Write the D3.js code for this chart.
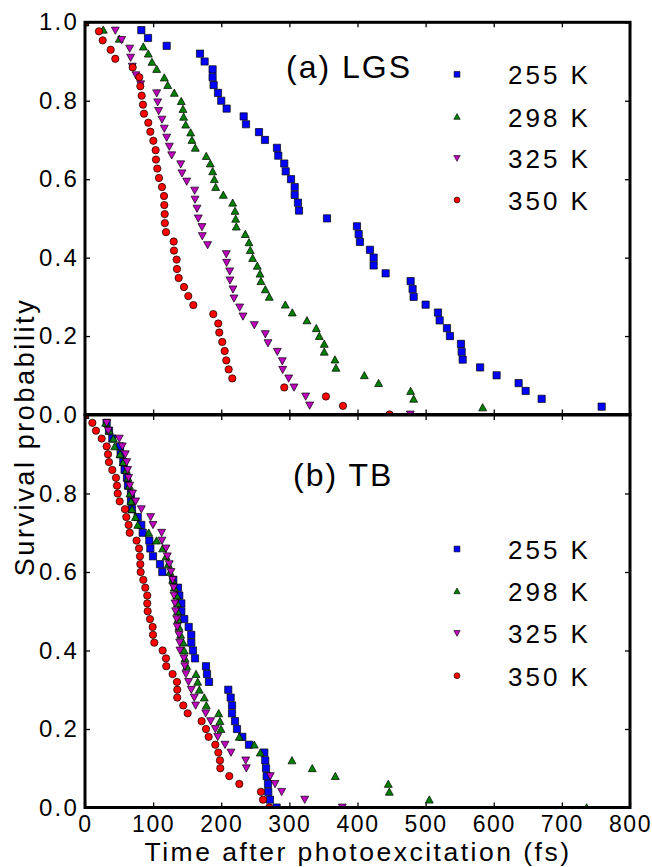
<!DOCTYPE html>
<html>
<head>
<meta charset="utf-8">
<script src="https://cdn.jsdelivr.net/npm/d3@7/dist/d3.min.js"></script>
<style>
  html, body { margin: 0; padding: 0; background: #fff; }
  svg { display: block; }
  text { font-family: "Liberation Sans", Arial, Helvetica, sans-serif; fill: #000; }
</style>
</head>
<body>
<svg id="chart" width="652" height="867"></svg>
<script>
// ---------------- DATA ----------------
const xTicks = [0, 100, 200, 300, 400, 500, 600, 700, 800];
const yTicksA = [0, 0.2, 0.4, 0.6, 0.8, 1.0];
const yTicksB = [0, 0.2, 0.4, 0.6, 0.8];
const seriesNames = ["255 K", "298 K", "325 K", "350 K"];

// (a) LGS
const lgs255T = [0, 82.7, 92.5, 119.9, 168.8, 175.6, 187.3, 187.3, 188.8, 195.2, 200, 207.9, 232.9, 236.3, 255.4, 264.2, 281.8, 283.7, 292.5, 294.6, 302.4, 307.8, 307.8, 312.6, 314.1, 355.2, 399.2, 401.7, 403.6, 418.3, 423.7, 423.7, 441.3, 478, 480.9, 482.4, 500, 518.1, 520.6, 531.3, 535.7, 551.9, 552.9, 554.4, 580, 604.2, 636.5, 646.8, 670.3, 758.4];
const lgs255P = [1.0, 0.98, 0.96, 0.94, 0.92, 0.90, 0.88, 0.86, 0.84, 0.82, 0.80, 0.78, 0.76, 0.74, 0.72, 0.70, 0.68, 0.66, 0.64, 0.62, 0.60, 0.58, 0.56, 0.54, 0.52, 0.50, 0.48, 0.46, 0.44, 0.42, 0.40, 0.38, 0.36, 0.34, 0.32, 0.30, 0.28, 0.26, 0.24, 0.22, 0.20, 0.18, 0.16, 0.14, 0.12, 0.10, 0.08, 0.06, 0.04, 0.02];

const lgs298T = [0, 26.9, 50.3, 85.6, 92.9, 98.3, 105.2, 116.4, 121.4, 131.1, 141.3, 143.8, 144.8, 147.8, 155.1, 157, 161.9, 178, 183.9, 187.4, 189.8, 191.8, 203, 216.8, 220.2, 221.2, 222.1, 235.3, 240.7, 242.6, 246.1, 252.9, 256.9, 258.3, 264.7, 270.5, 294, 304.3, 325.8, 339.5, 343.9, 351.2, 351.2, 366.9, 368.4, 410, 431, 478, 482.4, 583.7];
const lgs298P = [1.0, 0.981, 0.958, 0.938, 0.920, 0.899, 0.881, 0.859, 0.840, 0.820, 0.799, 0.779, 0.759, 0.739, 0.719, 0.700, 0.680, 0.659, 0.640, 0.620, 0.600, 0.580, 0.560, 0.540, 0.519, 0.499, 0.479, 0.460, 0.439, 0.419, 0.399, 0.379, 0.359, 0.340, 0.319, 0.300, 0.280, 0.260, 0.240, 0.220, 0.200, 0.180, 0.160, 0.140, 0.119, 0.100, 0.080, 0.060, 0.040, 0.018];

const lgs325T = [0, 44.5, 53.8, 65.6, 67, 69.4, 74.8, 81.7, 105.2, 106.7, 108.1, 113, 116.4, 119.9, 123.8, 127.3, 140.5, 142.4, 149.3, 161, 161.5, 164.4, 166.3, 171.7, 172.2, 180, 207.4, 207.9, 212.4, 212.8, 217.2, 218.7, 227, 231.9, 248.5, 264.7, 268.6, 282.3, 289.6, 290.2, 299, 306.8, 323.9, 329.8, 477.5];
const lgs325P = [1.0, 0.979, 0.955, 0.933, 0.910, 0.887, 0.865, 0.842, 0.819, 0.796, 0.774, 0.752, 0.729, 0.706, 0.683, 0.661, 0.638, 0.615, 0.594, 0.571, 0.548, 0.525, 0.500, 0.478, 0.455, 0.432, 0.409, 0.387, 0.365, 0.342, 0.319, 0.296, 0.273, 0.250, 0.228, 0.205, 0.182, 0.160, 0.136, 0.114, 0.092, 0.069, 0.046, 0.023, 0.0];

const lgs350T = [0, 20.5, 26, 37.7, 44.5, 70, 79.7, 81.2, 83.2, 85.1, 86.6, 92.9, 95.9, 100.3, 103.7, 104.2, 106.1, 108.6, 113, 116, 116.4, 117, 117.2, 118.9, 130.2, 130.6, 134.5, 135, 137.5, 145.3, 151.6, 159, 188.3, 195.6, 197.1, 201.5, 205, 207.4, 210.9, 216.2, 292.5, 353.7, 378.7, 447];
const lgs350P = [1.0, 0.977, 0.954, 0.930, 0.907, 0.885, 0.860, 0.837, 0.813, 0.790, 0.767, 0.744, 0.721, 0.698, 0.674, 0.650, 0.627, 0.603, 0.580, 0.557, 0.534, 0.511, 0.488, 0.465, 0.441, 0.418, 0.395, 0.371, 0.348, 0.325, 0.302, 0.279, 0.256, 0.232, 0.209, 0.185, 0.162, 0.138, 0.115, 0.092, 0.069, 0.046, 0.022, 0.0];

// (b) TB  (all four runs share the same survival levels)
const tbP = [1.0, 0.98, 0.96, 0.94, 0.92, 0.90, 0.88, 0.86, 0.84, 0.82, 0.80, 0.78, 0.76, 0.74, 0.72, 0.70, 0.68, 0.66, 0.64, 0.62, 0.60, 0.58, 0.56, 0.54, 0.52, 0.50, 0.48, 0.46, 0.44, 0.42, 0.40, 0.38, 0.36, 0.34, 0.32, 0.30, 0.28, 0.26, 0.24, 0.22, 0.20, 0.18, 0.16, 0.14, 0.12, 0.10, 0.08, 0.06, 0.04, 0.02, 0.0];
const tb255T = [0, 31.8, 35.2, 40.1, 51.4, 52.3, 56.2, 58.1, 61.6, 63.1, 67.5, 67.5, 69, 77.4, 82.6, 84.7, 94.4, 95.9, 99.8, 110.1, 113.5, 129.6, 136.5, 138.4, 141.4, 141.4, 145.7, 152.2, 156, 156, 158.5, 161.5, 177.6, 179.1, 182, 210.3, 213.8, 215.8, 215.8, 220.2, 223.1, 230.9, 240.7, 263.2, 264.6, 265.7, 266.7, 268.6, 269, 271.5, 281.3];
const tb298T = [0, 30.4, 35.8, 41.6, 43.6, 51.4, 56.2, 60.6, 63.1, 65, 66, 67.5, 69, 74, 77.4, 93.5, 105, 114, 119, 122.3, 124.8, 128.7, 131.1, 134.6, 135.6, 135.8, 136.5, 137.9, 140.4, 144.3, 145.7, 146.8, 149.3, 163, 165.4, 167.8, 175.1, 178.1, 196.2, 198.1, 199.6, 226.5, 248.5, 257.3, 303.8, 333.6, 367.4, 445.2, 446.7, 505.4, 736.3];
const tb325T = [0, 31.8, 34.2, 50.3, 54.7, 59.2, 61.2, 62.6, 64, 65.6, 69.8, 74.4, 82.7, 96.3, 99.8, 112.5, 113, 118.9, 120.8, 123.7, 126.2, 128.7, 130.2, 130.6, 132.1, 133, 134.6, 135.4, 138, 139, 139.4, 145.3, 146.5, 148.2, 152, 156, 160.4, 162.4, 177.2, 184.5, 191.3, 194.8, 205.5, 214.3, 235.9, 236.8, 272, 278.9, 288.7, 322.5, 377.7];
const tb350T = [0, 10.8, 16.1, 24.5, 31.8, 33.8, 35.2, 40.1, 45.5, 47, 48, 50.9, 58.7, 60.6, 64, 65.6, 75.7, 79.3, 80.7, 81.2, 81.7, 85.6, 88.5, 91.4, 91.4, 92, 95.4, 99.3, 99.8, 101.7, 114, 118.9, 119.3, 128.6, 135, 135.4, 135.4, 144.3, 150.7, 171.2, 177.6, 181.5, 191.3, 195.7, 198.1, 198.6, 211.8, 226.5, 258.3, 261.3, 270.5];

// ---------------- STYLE ----------------
const colors = ["#0000ff", "#008000", "#bf00bf", "#ff0000"];
const shapes = ["square", "triUp", "triDown", "circle"];

const svg = d3.select("#chart");
const left = 85, right = 630;
const x = d3.scaleLinear().domain([0, 800]).range([left, right]);

const panels = [
  { id: "a", top: 22.3, bottom: 414.5, yTicks: yTicksA, title: "(a) LGS", titleX: 286, titleY: 78,
    legendY: [74.3, 116.6, 158.3, 200], series: [[lgs255T, lgs255P], [lgs298T, lgs298P], [lgs325T, lgs325P], [lgs350T, lgs350P]] },
  { id: "b", top: 415, bottom: 807.5, yTicks: yTicksB, title: "(b) TB", titleX: 293, titleY: 486,
    legendY: [549, 591, 633.3, 675.7], series: [[tb255T, tbP], [tb298T, tbP], [tb325T, tbP], [tb350T, tbP]] }
];

function markerPath(shape, s) {
  const p = d3.path();
  if (shape === "square") { p.rect(-s, -s, 2 * s, 2 * s); }
  else if (shape === "circle") { p.arc(0, 0, s * 1.02, 0, 2 * Math.PI); }
  else if (shape === "triUp") { p.moveTo(0, -s * 1.05); p.lineTo(-s * 1.1, s * 0.95); p.lineTo(s * 1.1, s * 0.95); p.closePath(); }
  else { p.moveTo(0, s * 1.05); p.lineTo(-s * 1.1, -s * 0.95); p.lineTo(s * 1.1, -s * 0.95); p.closePath(); }
  return p.toString();
}

const defs = svg.append("defs");

panels.forEach(pn => {
  const y = d3.scaleLinear().domain([0, 1]).range([pn.bottom, pn.top]);
  const g = svg.append("g");

  defs.append("clipPath").attr("id", "clip-" + pn.id)
    .append("rect").attr("x", left).attr("y", pn.top).attr("width", right - left).attr("height", pn.bottom - pn.top);

  // data markers
  const dg = g.append("g").attr("clip-path", "url(#clip-" + pn.id + ")");
  pn.series.forEach((sr, i) => {
    const pts = sr[0].map((t, k) => ({ t: t, p: sr[1][k] }));
    dg.append("g").selectAll("path").data(pts).join("path")
      .attr("d", markerPath(shapes[i], 3.6))
      .attr("transform", d => `translate(${x(d.t)},${y(d.p)})`)
      .attr("fill", colors[i])
      .attr("stroke", "#000").attr("stroke-width", 0.7);
  });

  // ticks (inward)
  const tickStyle = sel => {
    sel.select(".domain").remove();
    sel.selectAll(".tick line").attr("stroke", "#000").attr("stroke-width", 1.3);
  };
  g.append("g").attr("transform", `translate(0,${pn.top})`)
    .call(d3.axisTop(x).tickValues(xTicks).tickSize(-5).tickFormat("")).call(tickStyle);
  const bottomAxis = g.append("g").attr("transform", `translate(0,${pn.bottom})`)
    .call(d3.axisBottom(x).tickValues(xTicks).tickSize(-5).tickPadding(8)
      .tickFormat(pn.id === "b" ? d3.format("d") : () => ""))
    .call(tickStyle);
  bottomAxis.selectAll("text").attr("font-size", 23).style("letter-spacing", "1.6px")
    .attr("font-family", "Liberation Sans, Arial, sans-serif");

  const leftAxis = g.append("g").attr("transform", `translate(${left},0)`)
    .call(d3.axisLeft(y).tickValues(pn.yTicks).tickSize(-5).tickPadding(6).tickFormat(d3.format(".1f")))
    .call(tickStyle);
  leftAxis.selectAll("text").attr("font-size", 24).style("letter-spacing", "2.2px")
    .attr("font-family", "Liberation Sans, Arial, sans-serif");
  g.append("g").attr("transform", `translate(${right},0)`)
    .call(d3.axisRight(y).tickValues(pn.yTicks).tickSize(-5).tickFormat("")).call(tickStyle);

  // frame
  g.append("rect").attr("x", left).attr("y", pn.top).attr("width", right - left).attr("height", pn.bottom - pn.top)
    .attr("fill", "none").attr("stroke", "#000").attr("stroke-width", 3);

  // title
  g.append("text").attr("x", pn.titleX).attr("y", pn.titleY).attr("font-size", 32)
    .style("letter-spacing", "2px").text(pn.title);

  // legend
  seriesNames.forEach((nm, i) => {
    g.append("path").attr("d", markerPath(shapes[i], 2.9))
      .attr("transform", `translate(457,${pn.legendY[i]})`)
      .attr("fill", colors[i]).attr("stroke", "#000").attr("stroke-width", 0.6);
    g.append("text").attr("x", 508).attr("y", pn.legendY[i] + 10).attr("font-size", 26)
      .style("letter-spacing", "3px").text(nm);
  });
});

// axis labels
svg.append("text").attr("x", 358).attr("y", 861).attr("text-anchor", "middle")
  .attr("font-size", 26.5).style("letter-spacing", "2.5px").text("Time after photoexcitation (fs)");
svg.append("text").attr("transform", "translate(34,437) rotate(-90)").attr("text-anchor", "middle")
  .attr("font-size", 27).style("letter-spacing", "2.6px").text("Survival probability");
</script>
</body>
</html>
